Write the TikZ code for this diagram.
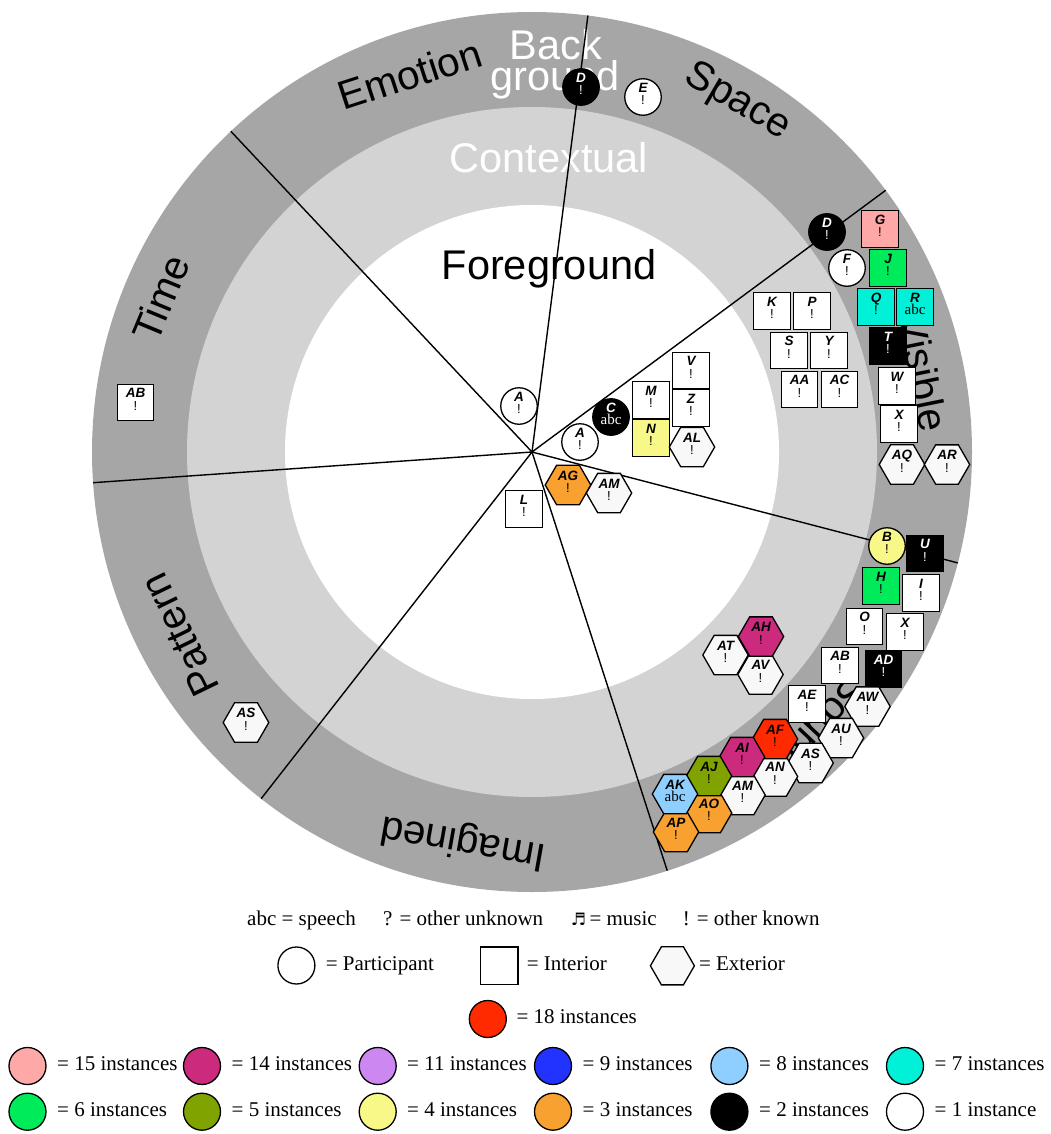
\documentclass[tikz,border=0pt]{standalone}
\usepackage{fontspec}
\setmainfont{Liberation Serif}
\setsansfont{Liberation Sans}
\newfontfamily\dejavu{DejaVu Sans}
\usetikzlibrary{shapes.geometric}
\definecolor{ringdark}{HTML}{A6A6A6}
\definecolor{ringlight}{HTML}{D3D3D3}
\definecolor{exfill}{HTML}{F8F8F8}
\definecolor{cxviii}{HTML}{FF2A00}
\definecolor{cxv}{HTML}{FFA8A8}
\definecolor{cxiv}{HTML}{CC2A7D}
\definecolor{cxi}{HTML}{CC88F0}
\definecolor{cix}{HTML}{2233FF}
\definecolor{cviii}{HTML}{8FCFFF}
\definecolor{cvii}{HTML}{00F0D8}
\definecolor{cvi}{HTML}{00EB5A}
\definecolor{cv}{HTML}{80A300}
\definecolor{civ}{HTML}{F8F888}
\definecolor{ciii}{HTML}{F8A030}
\newcommand\lblf{\sffamily\bfseries\itshape\fontsize{13.5}{12.5}\selectfont}
\newcommand\bangf{\sffamily\fontsize{13}{12.5}\selectfont}
\newcommand\abcf{\rmfamily\fontsize{15}{12.5}\selectfont}
\newcommand\nlab[2]{{\lblf #1}\\{#2\rule[-6pt]{0pt}{6pt}}}
\newcommand\bng{{\bangf !}}
\newcommand\spk{{\abcf abc}}
\begin{document}
\begin{tikzpicture}[x=1pt,y=1pt,
  nodebase/.style={draw, line width=1.3pt, inner sep=0pt, align=center, font=\fontsize{12.5}{12.5}\selectfont},
  part/.style={nodebase, circle, minimum size=36.5pt, fill=white},
  intr/.style={nodebase, rectangle, minimum size=36.5pt, fill=white},
  extr/.style={nodebase, regular polygon, regular polygon sides=6, minimum size=42.5pt, fill=exfill},
  blk/.style={fill=black, text=white},
  radial/.style={line width=1.4pt},
  seclab/.style={font=\sffamily\fontsize{40.5}{40.5}\selectfont, inner sep=0pt},
  ringlab/.style={font=\sffamily\fontsize{41.5}{41.5}\selectfont, inner sep=0pt, anchor=base},
  legtxt/.style={font=\rmfamily\fontsize{21}{25}\selectfont, inner sep=0pt, anchor=base west},
  legc/.style={circle, draw, line width=1.3pt, minimum size=37pt, inner sep=0pt}]
\useasboundingbox (0,0) rectangle (1050,-1134);
\coordinate (O) at (532,-452);
% rings
\fill[ringdark] (O) circle[radius=440pt];
\fill[ringlight] (O) circle[radius=345pt];
\fill[white] (O) circle[radius=247pt];
% ring labels
\node[ringlab] (fg) at (549,-279) {Foreground};
\node[ringlab, text=white] (ctx) at (549,-172) {Contextual};
\node[ringlab, text=white] (bg1) at (556,-60) {Back};
\node[ringlab, text=white] (bg2) at (555,-91) {ground};
% sector labels
\node[seclab, rotate=17.95] (sEmo) at ([shift={(107.95:397pt)}]O) {Emotion};
\node[seclab, rotate=-30.4] (sSpa) at ([shift={(59.6:406pt)}]O) {Space};
\node[seclab, rotate=-78.5] (sVis) at ([shift={(11.5:399pt)}]O) {Visible};
\node[seclab, rotate=-133.35] (sSnd) at ([shift={(-43.35:399pt)}]O) {Sound};
\node[seclab, rotate=170] (sIma) at ([shift={(-100:395pt)}]O) {Imagined};
\node[seclab, rotate=116] (sPat) at ([shift={(-152.5:397pt)}]O) {Pattern};
\node[seclab, rotate=67.5] (sTim) at ([shift={(157.5:402pt)}]O) {Time};
% radial lines
\coordinate (e1) at ([shift={(82.7:440pt)}]O);
\coordinate (e2) at ([shift={(36.5:440pt)}]O);
\coordinate (e3) at ([shift={(-14.6:440pt)}]O);
\coordinate (e4) at ([shift={(-72.1:440pt)}]O);
\coordinate (e5) at ([shift={(-128:440pt)}]O);
\coordinate (e6) at ([shift={(-176:440pt)}]O);
\coordinate (e7) at ([shift={(133.2:440pt)}]O);
\foreach \e in {e1,e2,e3,e4,e5,e6,e7} \draw[radial] (O) -- (\e);
% participants
\node[part] (pA1) at (519,-406) {\nlab{A}{\bng}};
\node[part] (pA2) at (580,-442) {\nlab{A}{\bng}};
\node[part, blk] (pC) at (611,-417) {\nlab{C}{\spk}};
\node[part, blk] (pD1) at (581,-87) {\nlab{D}{\bng}};
\node[part] (pE) at (643,-97) {\nlab{E}{\bng}};
\node[part, blk] (pD2) at (827,-232) {\nlab{D}{\bng}};
\node[part] (pF) at (847,-268) {\nlab{F}{\bng}};
\node[part, fill=civ] (pB) at (887,-546) {\nlab{B}{\bng}};
% interior
\node[intr] (iAB1) at (135.5,-402.5) {\nlab{AB}{\bng}};
\node[intr, fill=cxv] (iG) at (880,-229) {\nlab{G}{\bng}};
\node[intr, fill=cvi] (iJ) at (888,-268) {\nlab{J}{\bng}};
\node[intr, fill=cvii] (iQ) at (876,-307) {\nlab{Q}{\bng}};
\node[intr, fill=cvii] (iR) at (915,-307) {\nlab{R}{\spk}};
\node[intr, blk] (iT) at (888,-346) {\nlab{T}{\bng}};
\node[intr] (iW) at (897,-386) {\nlab{W}{\bng}};
\node[intr] (iX1) at (899,-424) {\nlab{X}{\bng}};
\node[intr] (iK) at (772,-311) {\nlab{K}{\bng}};
\node[intr] (iP) at (812,-311) {\nlab{P}{\bng}};
\node[intr] (iS) at (789,-350.5) {\nlab{S}{\bng}};
\node[intr] (iY) at (829,-350.5) {\nlab{Y}{\bng}};
\node[intr] (iAA) at (799.5,-389.5) {\nlab{AA}{\bng}};
\node[intr] (iAC) at (839.5,-389.5) {\nlab{AC}{\bng}};
\node[intr] (iM) at (651,-400) {\nlab{M}{\bng}};
\node[intr, fill=civ] (iN) at (651,-438) {\nlab{N}{\bng}};
\node[intr] (iV) at (691,-370.5) {\nlab{V}{\bng}};
\node[intr] (iZ) at (691,-408) {\nlab{Z}{\bng}};
\node[intr] (iL) at (524,-509) {\nlab{L}{\bng}};
\node[intr, blk] (iU) at (925,-553.5) {\nlab{U}{\bng}};
\node[intr, fill=cvi] (iH) at (881,-586) {\nlab{H}{\bng}};
\node[intr] (iI) at (921,-593) {\nlab{I}{\bng}};
\node[intr] (iO) at (864.5,-626.5) {\nlab{O}{\bng}};
\node[intr] (iX2) at (905,-632) {\nlab{X}{\bng}};
\node[intr] (iAB2) at (840,-665.5) {\nlab{AB}{\bng}};
\node[intr, blk] (iAD) at (883.5,-669) {\nlab{AD}{\bng}};
\node[intr] (iAE) at (807,-704) {\nlab{AE}{\bng}};
% exterior
\node[extr] (xAQ) at (902,-464.5) {\nlab{AQ}{\bng}};
\node[extr] (xAR) at (947,-464.5) {\nlab{AR}{\bng}};
\node[extr] (xAL) at (692,-447) {\nlab{AL}{\bng}};
\node[extr, fill=ciii] (xAG) at (568,-485) {\nlab{AG}{\bng}};
\node[extr] (xAM1) at (609,-493) {\nlab{AM}{\bng}};
\node[extr] (xAS1) at (246,-722.5) {\nlab{AS}{\bng}};
\node[extr] (xAW) at (867.5,-706.5) {\nlab{AW}{\bng}};
\node[extr] (xAU) at (841,-738) {\nlab{AU}{\bng}};
\node[extr] (xAS2) at (810.5,-763) {\nlab{AS}{\bng}};
\node[extr] (xAN) at (775,-776.5) {\nlab{AN}{\bng}};
\node[extr, fill=cxviii] (xAF) at (775,-739) {\nlab{AF}{\bng}};
\node[extr] (xAM2) at (742.5,-795) {\nlab{AM}{\bng}};
\node[extr, fill=cxiv] (xAI) at (742,-757) {\nlab{AI}{\bng}};
\node[extr, fill=ciii] (xAO) at (709,-813) {\nlab{AO}{\bng}};
\node[extr, fill=cv] (xAJ) at (709,-776) {\nlab{AJ}{\bng}};
\node[extr, fill=ciii] (xAP) at (676,-832) {\nlab{AP}{\bng}};
\node[extr, fill=cviii] (xAK) at (675,-794) {\nlab{AK}{\spk}};
\node[extr] (xAT) at (725.5,-655) {\nlab{AT}{\bng}};
\node[extr] (xAV) at (760.5,-674.5) {\nlab{AV}{\bng}};
\node[extr, fill=cxiv] (xAH) at (761,-636.5) {\nlab{AH}{\bng}};
% legend
\node[legtxt] (k1) at (247,-925) {abc = speech};
\node[legtxt] (k2) at (383,-925) {? = other unknown};
\node[legtxt] (k3) at (570.6,-925) {{\dejavu\bfseries\fontsize{17}{17}\selectfont ♬}\,= music};
\node[legtxt] (k4) at (682.7,-925) {! = other known};
\node[legc] (lp) at (296.4,-965.5) {};
\node[legtxt] (lpt) at (325.7,-970.5) {= Participant};
\node[rectangle, draw, line width=1.3pt, minimum size=37.5pt, inner sep=0pt] (li) at (499.3,-965.8) {};
\node[legtxt] (lit) at (526.6,-970.5) {= Interior};
\node[regular polygon, regular polygon sides=6, draw, line width=1.3pt, minimum size=44pt, inner sep=0pt, fill=exfill] (le) at (672.4,-965.8) {};
\node[legtxt] (let) at (698.8,-970.5) {= Exterior};
\node[legc, fill=cxviii] (l18) at (487.8,-1019) {};
\node[legtxt] (l18t) at (516.3,-1023.5) {= 18 instances};
\node[legc, fill=cxv] (l15) at (27.5,-1066) {};
\node[legtxt] (l15t) at (57,-1070) {= 15 instances};
\node[legc, fill=cxiv] (l14) at (202,-1066) {};
\node[legtxt] (l14t) at (231.5,-1070) {= 14 instances};
\node[legc, fill=cxi] (l11) at (377.7,-1066) {};
\node[legtxt] (l11t) at (407,-1070) {= 11 instances};
\node[legc, fill=cix] (l9) at (553,-1066) {};
\node[legtxt] (l9t) at (582.5,-1070) {= 9 instances};
\node[legc, fill=cviii] (l8) at (729.4,-1066) {};
\node[legtxt] (l8t) at (759,-1070) {= 8 instances};
\node[legc, fill=cvii] (l7) at (905,-1066) {};
\node[legtxt] (l7t) at (934.5,-1070) {= 7 instances};
\node[legc, fill=cvi] (l6) at (27.5,-1111.7) {};
\node[legtxt] (l6t) at (57,-1116) {= 6 instances};
\node[legc, fill=cv] (l5) at (202,-1111.7) {};
\node[legtxt] (l5t) at (231.5,-1116) {= 5 instances};
\node[legc, fill=civ] (l4) at (377.7,-1111.7) {};
\node[legtxt] (l4t) at (407,-1116) {= 4 instances};
\node[legc, fill=ciii] (l3) at (553,-1111.7) {};
\node[legtxt] (l3t) at (582.5,-1116) {= 3 instances};
\node[legc, fill=black] (l2) at (729.4,-1111.7) {};
\node[legtxt] (l2t) at (759,-1116) {= 2 instances};
\node[legc, fill=white] (l1) at (905,-1111.7) {};
\node[legtxt] (l1t) at (934.5,-1116) {= 1 instance};
\end{tikzpicture}
\end{document}
